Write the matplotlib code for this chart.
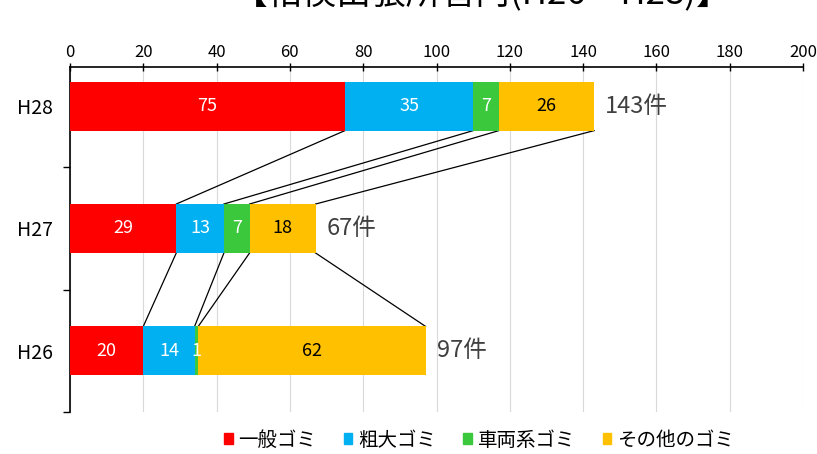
import matplotlib
matplotlib.use("Agg")
import matplotlib.pyplot as plt
import numpy as np

plt.rcParams['font.family'] = ['Noto Sans CJK JP', 'DejaVu Sans']

years = ["H26", "H27", "H28"]
series_names = ["一般ゴミ", "粗大ゴミ", "車両系ゴミ", "その他のゴミ"]
general = [20, 29, 75]
bulky = [14, 13, 35]
vehicle = [1, 7, 7]
other = [62, 18, 26]
totals_text = ["97件", "67件", "143件"]
x_ticks = [0, 20, 40, 60, 80, 100, 120, 140, 160, 180, 200]
title = "【相模出張所管内(H26～H28)】"

colors = ["#FF0000", "#00B0F0", "#3CC83C", "#FFC000"]
label_colors = ["white", "white", "white", "black"]

fig = plt.figure(figsize=(8.17, 4.54), dpi=100)
ax = fig.add_axes([70/817, 1-412/454, (803-70)/817, (412-67)/454])

data = np.array([general, bulky, vehicle, other], dtype=float)
ypos = np.arange(len(years))
bar_h = 0.4
left = np.zeros(len(years))
cum = []
for i, (vals, col) in enumerate(zip(data, colors)):
    ax.barh(ypos, vals, left=left, height=bar_h, color=col, zorder=3, label=series_names[i])
    for j, v in enumerate(vals):
        ax.text(left[j] + v/2, ypos[j], f"{int(v)}", ha='center', va='center',
                color=label_colors[i], fontsize=13, zorder=4)
    left = left + vals
    cum.append(left.copy())

totals = left
for j, t in enumerate(totals):
    ax.text(t + 3, ypos[j], totals_text[j], ha='left', va='center',
            fontsize=17, color='#404040', zorder=4)

# connecting lines between bars
for c in cum:
    for j in range(len(years)-1, 0, -1):
        ax.plot([c[j], c[j-1]], [ypos[j]-bar_h/2, ypos[j-1]+bar_h/2],
                color='black', lw=0.9, zorder=2)

ax.set_xlim(0, 200)
ax.set_ylim(-0.5, 2.32)
ax.xaxis.tick_top()
ax.set_xticks(x_ticks)
ax.set_xticklabels([str(v) for v in x_ticks], fontsize=12)
ax.tick_params(axis='x', direction='inout', length=6, width=1, pad=1)
ax.set_yticks(ypos)
ax.set_yticklabels(years, fontsize=14)
ax.set_yticks([-0.5, 0.5, 1.5], minor=True)
ax.tick_params(axis='y', which='major', length=0, pad=12)
ax.tick_params(axis='y', which='minor', direction='out', length=5, width=1)
ax.grid(axis='x', color='#D9D9D9', lw=0.8, zorder=0)
for s in ['right', 'bottom']:
    ax.spines[s].set_visible(False)
ax.spines['top'].set_linewidth(1.2)
ax.spines['left'].set_linewidth(1.2)

handles = [plt.Rectangle((0, 0), 1, 1, color=c) for c in colors]
fig.legend(handles, series_names, loc='center', bbox_to_anchor=(479/817, 1-440/454),
           ncol=4, frameon=False, fontsize=14, handlelength=0.45, handleheight=0.45,
           handletextpad=0.3, columnspacing=1.4, borderpad=0)

fig.text(482/817, 1-4/454, title, ha='center', va='baseline', fontsize=25, color='black')

fig.savefig("out.png", dpi=100)
